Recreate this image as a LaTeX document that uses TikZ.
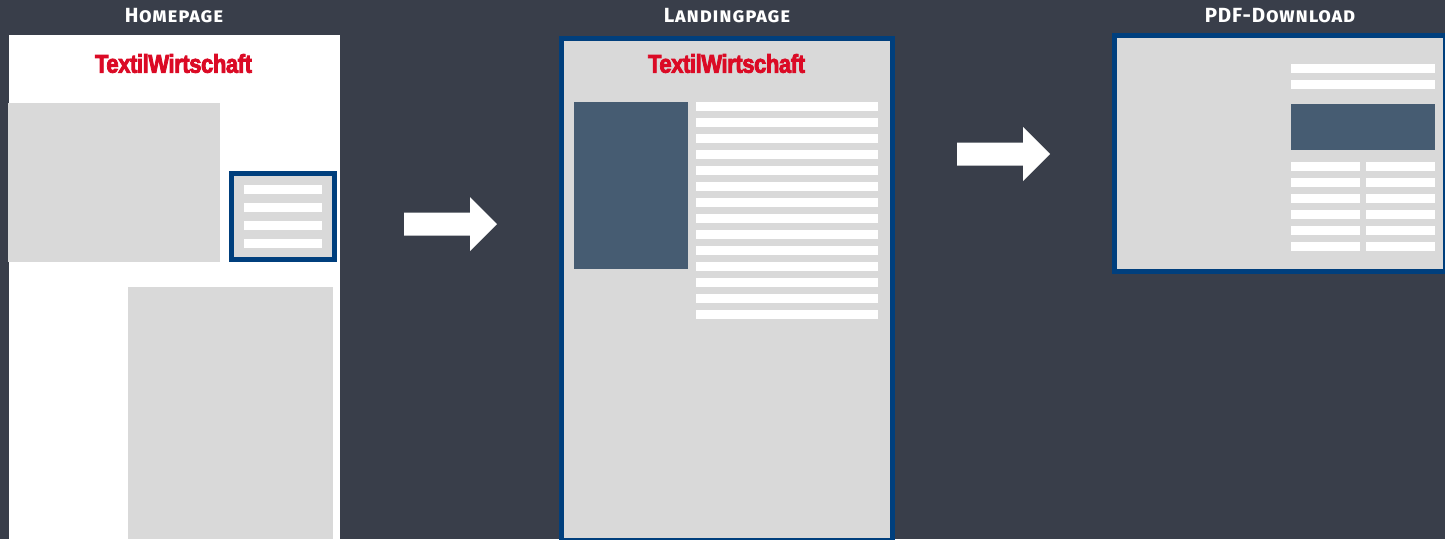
\documentclass[tikz,border=0pt]{standalone}
\usepackage{graphicx}
\usepackage{fontspec}
\setmainfont{Liberation Sans}
\newfontfamily\titlefont[Letters=SmallCaps,LetterSpace=4]{Fira Sans}
\newfontfamily\logofont[FakeBold=3.5,LetterSpace=-2]{Liberation Sans Bold}
\definecolor{bgdark}{HTML}{393E4A}
\definecolor{frameblue}{HTML}{003F7D}
\definecolor{pagegrey}{HTML}{D9D9D9}
\definecolor{slateblue}{HTML}{465C72}
\definecolor{logored}{HTML}{DB0A25}
\newcommand{\logotw}{\resizebox{157pt}{18.6pt}{\logofont TextilWirtschaft}}
\tikzset{
    title/.style={text=white, font=\titlefont\bfseries\fontsize{20.5}{20.5}\selectfont, inner sep=0pt, anchor=base},
    logo/.style={text=logored, inner sep=0pt},
    blank/.style={fill=white},
    grey/.style={fill=pagegrey},
    slate/.style={fill=slateblue},
    frame/.style={fill=pagegrey, draw=frameblue, line width=5pt},
    flow/.style={fill=white}
}

\begin{document}
\begin{tikzpicture}[x=1pt, y=-1pt]
    \useasboundingbox (0,0) rectangle (1445,539);
    \clip (0,0) rectangle (1445,539);
    \fill[bgdark] (0,0) rectangle (1445,539);

    % Titres
    \node[title] (homeTitle) at (174,22) {Homepage};
    \node[title] (landingTitle) at (727,22) {Landingpage};
    \node[title] (pdfTitle) at (1280,22) {PDF-Download};

    % Homepage
    \fill[blank] (9,35) rectangle (340,539);
    \node[logo] (homeLogo) at (173.5,63.5) {\logotw};
    \fill[grey] (8,103) rectangle (220,262);
    \fill[grey] (128,287) rectangle (333,539);
    \draw[frame] (231.5,173.5) rectangle (334.5,259.5);
    \foreach \y in {185,203,221,239}
        \fill[blank] (244,\y) rectangle (322,\y+9);

    % Landingpage
    \draw[frame] (561.5,38) rectangle (892.5,540);
    \node[logo] (landingLogo) at (726.5,63.5) {\logotw};
    \fill[slate] (574,102) rectangle (688,269);
    \foreach \i in {0,...,13}
        \fill[blank] (696,102+16*\i) rectangle (878,111+16*\i);

    % PDF-Download
    \draw[frame] (1114.5,35) rectangle (1445.5,271);
    \fill[blank] (1291,64) rectangle (1435,73);
    \fill[blank] (1291,80) rectangle (1435,89);
    \fill[slate] (1291,104) rectangle (1435,150);
    \foreach \i in {0,...,5} {
        \fill[blank] (1291,162+16*\i) rectangle (1360,171+16*\i);
        \fill[blank] (1366,162+16*\i) rectangle (1435,171+16*\i);
    }

    % Fleches
    \foreach \x/\y in {404/224,957/154}
        \fill[flow] (\x,\y-11.5) -- (\x+66,\y-11.5) -- (\x+66,\y-27) -- (\x+93,\y)
            -- (\x+66,\y+27) -- (\x+66,\y+11.5) -- (\x,\y+11.5) -- cycle;
\end{tikzpicture}
\end{document}
